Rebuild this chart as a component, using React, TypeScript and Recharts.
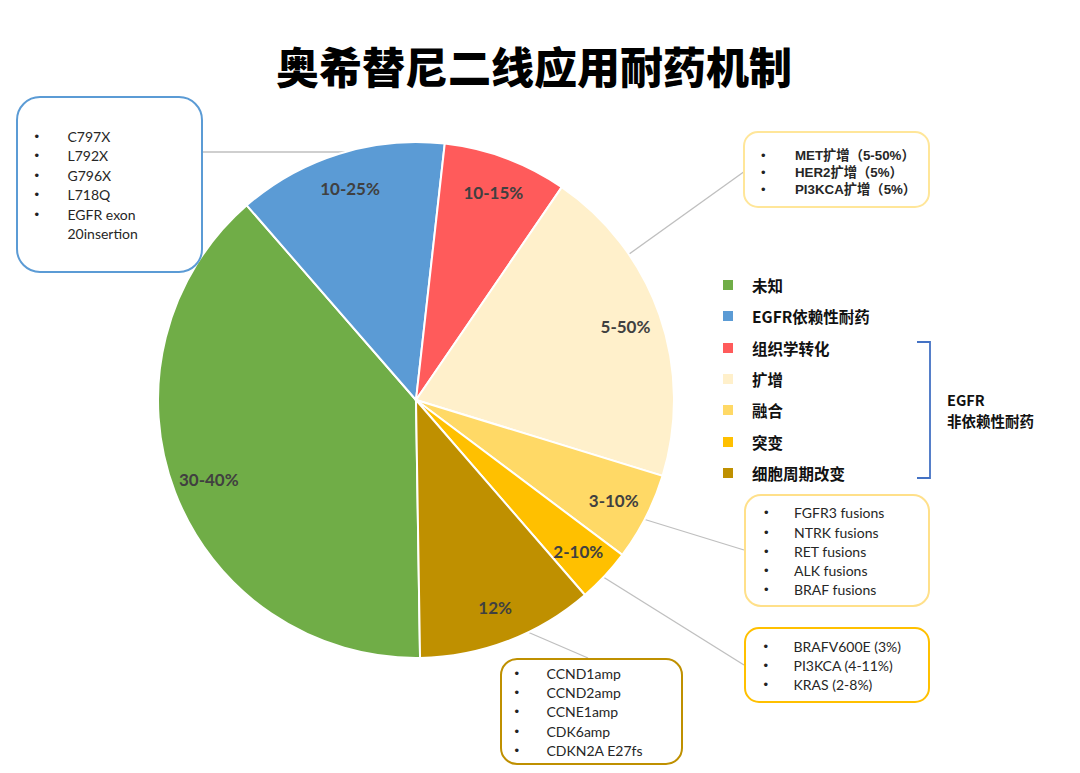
import { PieChart, Pie, Cell } from "recharts";

// 耐药机制分类（图例顺序）
const categories = ["未知", "EGFR依赖性耐药", "组织学转化", "扩增", "融合", "突变", "细胞周期改变"];
// slice sizes in degrees
const shares = [139.9, 47.4, 28, 72.7, 19.8, 12.2, 40];
const sliceLabels = ["30-40%", "10-25%", "10-15%", "5-50%", "3-10%", "2-10%", "12%"];
const colors = ["#70AD47", "#5B9BD5", "#FF5B5B", "#FFF0CB", "#FFD966", "#FFC000", "#BF9000"];

const dependentItems = ["C797X", "L792X", "G796X", "L718Q", "EGFR exon\n20insertion"];
const amplificationItems = ["MET扩增（5-50%）", "HER2扩增（5%）", "PI3KCA扩增（5%）"];
const fusionItems = ["FGFR3 fusions", "NTRK fusions", "RET fusions", "ALK fusions", "BRAF fusions"];
const mutationItems = ["BRAFV600E (3%)", "PI3KCA (4-11%)", "KRAS (2-8%)"];
const cellCycleItems = ["CCND1amp", "CCND2amp", "CCNE1amp", "CDK6amp", "CDKN2A E27fs"];

const pieData = categories.map((name, i) => ({
  name,
  value: shares[i],
  label: sliceLabels[i],
}));

const LATIN = "Lato, 'Noto Sans CJK SC', sans-serif";
const CJK = "'Noto Sans CJK SC', 'Noto Sans', sans-serif";

const RADIAN = Math.PI / 180;

function SliceLabel(props: any) {
  const { cx, cy, midAngle, outerRadius, index } = props;
  const r = outerRadius * 0.86;
  const x = cx + r * Math.cos(-midAngle * RADIAN);
  const y = cy + r * Math.sin(-midAngle * RADIAN);
  return (
    <text
      x={x}
      y={y}
      textAnchor="middle"
      dominantBaseline="central"
      fill="#404040"
      fontFamily={LATIN}
      fontWeight={700}
      fontSize={17}
    >
      {pieData[index].label}
    </text>
  );
}

interface BoxProps {
  left: number;
  top: number;
  width: number;
  height: number;
  border: string;
  borderWidth: number;
  radius: number;
  items: string[];
  firstY: number;
  lineH: number;
  bulletX: number;
  textX: number;
  fontSize: number;
  bold?: boolean;
}

// rounded note box with bullet list
function NoteBox(p: BoxProps) {
  return (
    <div
      style={{
        position: "absolute",
        left: p.left,
        top: p.top,
        width: p.width,
        height: p.height,
        boxSizing: "border-box",
        border: `${p.borderWidth}px solid ${p.border}`,
        borderRadius: p.radius,
        background: "#fff",
      }}
    >
      {p.items.map((item, i) => (
        <div key={item}>
          <div
            style={{
              position: "absolute",
              left: p.bulletX - p.borderWidth,
              top: p.firstY + i * p.lineH - p.lineH / 2 - p.borderWidth,
              lineHeight: `${p.lineH}px`,
              fontSize: 13,
              fontFamily: "Arial, 'Liberation Sans', sans-serif",
              color: "#222",
            }}
          >
            •
          </div>
          <div
            style={{
              position: "absolute",
              left: p.textX - p.borderWidth,
              top: p.firstY + i * p.lineH - p.lineH / 2 - p.borderWidth,
              lineHeight: `${p.lineH}px`,
              fontSize: p.fontSize,
              fontWeight: p.bold ? 700 : 400,
              fontFamily: p.bold ? "'Liberation Sans', 'Noto Sans CJK SC', sans-serif" : LATIN,
              color: "#262626",
              whiteSpace: "pre",
            }}
          >
            {item}
          </div>
        </div>
      ))}
    </div>
  );
}

export default function App() {
  return (
    <div
      style={{
        position: "absolute",
        left: 0,
        top: 0,
        width: 1080,
        height: 773,
        background: "#fff",
        overflow: "hidden",
      }}
    >
      {/* leader lines, under the pie */}
      <svg width={1080} height={773} style={{ position: "absolute", left: 0, top: 0 }}>
        <g stroke="#BFBFBF" strokeWidth={1.3}>
          <line x1={203} y1={152} x2={420} y2={152} />
          <line x1={745} y1={171} x2={625} y2={257} />
          <line x1={744} y1={550} x2={640} y2={518} />
          <line x1={744} y1={665} x2={600} y2={575} />
          <line x1={588} y1={658} x2={523} y2={630} />
        </g>
      </svg>

      <div style={{ position: "absolute", left: 0, top: 0 }}>
        <PieChart width={1080} height={773} margin={{ top: 0, right: 0, bottom: 0, left: 0 }}>
          <Pie
            data={pieData}
            dataKey="value"
            nameKey="name"
            cx={416}
            cy={400}
            outerRadius={258}
            startAngle={-89.1}
            endAngle={-449.1}
            stroke="#fff"
            strokeWidth={2}
            label={SliceLabel}
            labelLine={false}
            isAnimationActive={false}
          >
            {pieData.map((d, i) => (
              <Cell key={d.name} fill={colors[i]} />
            ))}
          </Pie>
        </PieChart>
      </div>

      {/* title */}
      <div
        style={{
          position: "absolute",
          left: 0,
          width: 1068,
          top: 38,
          textAlign: "center",
          fontFamily: CJK,
          fontWeight: 900,
          fontSize: 43,
          lineHeight: "54px",
          color: "#000",
        }}
      >
        奥希替尼二线应用耐药机制
      </div>

      {/* legend */}
      {categories.map((c, i) => {
        const y = 285 + i * 31.3;
        return (
          <div key={c}>
            <div
              style={{
                position: "absolute",
                left: 723,
                top: y - 5,
                width: 10,
                height: 10,
                background: colors[i],
              }}
            />
            <div
              style={{
                position: "absolute",
                left: 752,
                top: y - 11,
                lineHeight: "22px",
                fontSize: 15.5,
                fontWeight: 700,
                fontFamily: CJK,
                color: "#111",
                whiteSpace: "nowrap",
              }}
            >
              {c}
            </div>
          </div>
        );
      })}

      {/* bracket for EGFR-independent group */}
      <svg width={1080} height={773} style={{ position: "absolute", left: 0, top: 0, pointerEvents: "none" }}>
        <polyline
          points="917,342 930,342 930,478 917,478"
          fill="none"
          stroke="#4472C4"
          strokeWidth={1.8}
        />
      </svg>
      <div
        style={{
          position: "absolute",
          left: 947,
          top: 389,
          fontSize: 14.5,
          lineHeight: "21px",
          fontWeight: 700,
          fontFamily: CJK,
          color: "#111",
        }}
      >
        EGFR
        <br />
        非依赖性耐药
      </div>

      <NoteBox
        left={16}
        top={96}
        width={187}
        height={177}
        border="#5B9BD5"
        borderWidth={2.5}
        radius={24}
        items={dependentItems}
        firstY={41}
        lineH={19.5}
        bulletX={19}
        textX={52}
        fontSize={14}
      />
      <NoteBox
        left={743}
        top={131}
        width={187}
        height={77}
        border="#FFE699"
        borderWidth={2}
        radius={15}
        items={amplificationItems}
        firstY={24}
        lineH={17}
        bulletX={18}
        textX={52}
        fontSize={13.3}
        bold
      />
      <NoteBox
        left={744}
        top={494}
        width={186}
        height={113}
        border="#FFE08A"
        borderWidth={2}
        radius={17}
        items={fusionItems}
        firstY={19}
        lineH={19.25}
        bulletX={20}
        textX={50}
        fontSize={14}
      />
      <NoteBox
        left={744}
        top={627}
        width={186}
        height={76}
        border="#FFC000"
        borderWidth={2.5}
        radius={15}
        items={mutationItems}
        firstY={20}
        lineH={19}
        bulletX={20}
        textX={50}
        fontSize={14}
      />
      <NoteBox
        left={500}
        top={658}
        width={183}
        height={107}
        border="#BF9000"
        borderWidth={2.5}
        radius={17}
        items={cellCycleItems}
        firstY={16}
        lineH={19.25}
        bulletX={15}
        textX={47}
        fontSize={14}
      />
    </div>
  );
}
